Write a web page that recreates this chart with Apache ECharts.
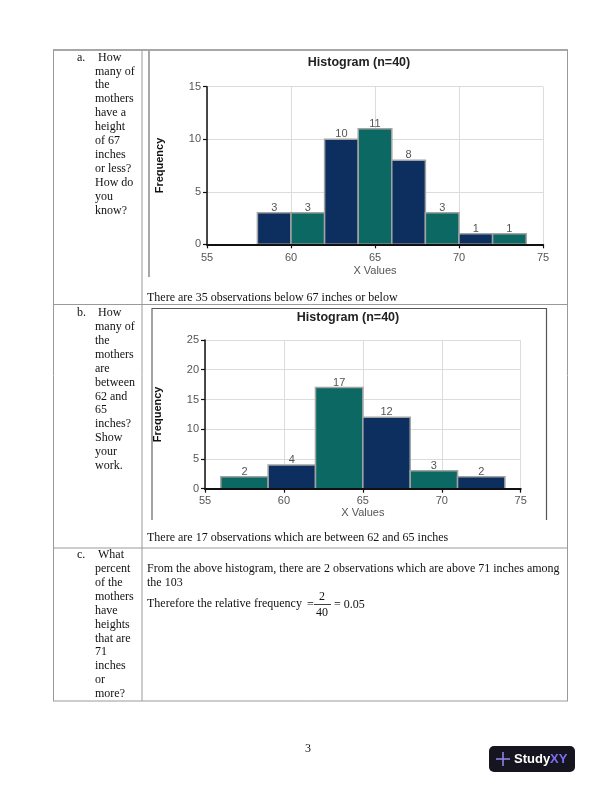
<!DOCTYPE html>
<html>
<head>
<meta charset="utf-8">
<script src="https://cdn.jsdelivr.net/npm/echarts@6/dist/echarts.min.js"></script>
<style>
html,body{margin:0;padding:0;background:#fff;}
#c{width:612px;height:792px;}
</style>
</head>
<body>
<div id="c"></div>
<script>
// ---- Data ----
const chartTitle = 'Histogram (n=40)';
const xAxisName = 'X Values';
const yAxisName = 'Frequency';
const xTicks = [55, 60, 65, 70, 75];

// Histogram a
const binStartsA = [58, 60, 62, 64, 66, 68, 70, 72];
const binEndsA   = [60, 62, 64, 66, 68, 70, 72, 74];
const countsA    = [3, 3, 10, 11, 8, 3, 1, 1];
const yTicksA    = [0, 5, 10, 15];

// Histogram b
const binStartsB = [56, 59, 62, 65, 68, 71];
const binEndsB   = [59, 62, 65, 68, 71, 74];
const countsB    = [2, 4, 17, 12, 3, 2];
const yTicksB    = [0, 5, 10, 15, 20, 25];

// Text
const rowA = ['How', 'many of', 'the', 'mothers', 'have a', 'height', 'of 67', 'inches', 'or less?', 'How do', 'you', 'know?'];
const rowB = ['How', 'many of', 'the', 'mothers', 'are', 'between', '62 and', '65', 'inches?', 'Show', 'your', 'work.'];
const rowC = ['What', 'percent', 'of the', 'mothers', 'have', 'heights', 'that are', '71', 'inches', 'or', 'more?'];
const answerA = 'There are 35 observations below 67 inches or below';
const answerB = 'There are 17 observations which are between 62 and 65 inches';
const answerC1 = 'From the above histogram, there are 2 observations which are above 71 inches among';
const answerC2 = 'the 103';
const answerC3 = 'Therefore the relative frequency';

// ---- Styles ----
const NAVY = '#0c2f5f';
const TEAL = '#0b6862';
const SERIF = '12px "Liberation Serif", "Times New Roman", serif';
const SANS = '"Liberation Sans", Arial, sans-serif';

function makeData(s, e, c) { return s.map((v, i) => [v, e[i], c[i]]); }

function renderer(firstColor, secondColor) {
  return function (params, api) {
    const s = api.value(0), e = api.value(1), v = api.value(2);
    const p0 = api.coord([s, v]);
    const p1 = api.coord([e, 0]);
    const color = params.dataIndex % 2 === 0 ? firstColor : secondColor;
    return {
      type: 'group',
      children: [
        { type: 'rect', shape: { x: p0[0], y: p0[1], width: p1[0] - p0[0], height: p1[1] - p0[1] },
          style: { fill: color, stroke: '#a3a3a3', lineWidth: 1.5 } },
        { type: 'text', style: { text: String(v), x: (p0[0] + p1[0]) / 2, y: p0[1] + 0.5, align: 'center', verticalAlign: 'bottom',
          fill: '#555', font: '11px ' + SANS } }
      ]
    };
  };
}

// base axes: labels, names, split lines (behind bars)
function xAx(gi, gap, margin) {
  return {
    type: 'value', gridIndex: gi, position: 'bottom', min: 55, max: 75, interval: 5, z: 0,
    name: xAxisName, nameLocation: 'middle', nameGap: gap,
    nameTextStyle: { color: '#555', fontSize: 11, fontFamily: SANS },
    axisLine: { show: false, onZero: false },
    axisTick: { show: false },
    axisLabel: { color: '#555', fontSize: 11, fontFamily: SANS, margin: margin,
      formatter: v => (xTicks.indexOf(v) >= 0 ? String(v) : '') },
    splitLine: { show: true, lineStyle: { color: '#dcdcdc', width: 1 } }
  };
}
function yAx(gi, ticks) {
  return {
    type: 'value', gridIndex: gi, position: 'left', min: ticks[0], max: ticks[ticks.length - 1], interval: 5, z: 0,
    name: yAxisName, nameLocation: 'middle', nameGap: 42, nameRotate: 90,
    nameTextStyle: { color: '#111', fontSize: 11, fontWeight: 'bold', fontFamily: SANS },
    axisLine: { show: false, onZero: false },
    axisTick: { show: false },
    axisLabel: { color: '#555', fontSize: 11, fontFamily: SANS, margin: 6,
      formatter: v => (ticks.indexOf(v) >= 0 ? String(v) : '') },
    splitLine: { show: true, lineStyle: { color: '#dcdcdc', width: 1 } }
  };
}
// overlay axes: axis line + ticks only (above bars)
function xLine(gi) {
  return {
    type: 'value', gridIndex: gi, position: 'bottom', offset: 0, min: 55, max: 75, interval: 5, z: 6,
    axisLine: { show: true, onZero: false, lineStyle: { color: '#111', width: 2 } },
    axisTick: { show: true, length: 4, lineStyle: { color: '#111', width: 1.2 } },
    axisLabel: { show: false }, splitLine: { show: false }
  };
}
function yLine(gi, ticks) {
  return {
    type: 'value', gridIndex: gi, position: 'left', offset: 0, min: ticks[0], max: ticks[ticks.length - 1], interval: 5, z: 6,
    axisLine: { show: true, onZero: false, lineStyle: { color: '#111', width: 1.5 } },
    axisTick: { show: true, length: 4, lineStyle: { color: '#111', width: 1.2 } },
    axisLabel: { show: false }, splitLine: { show: false }
  };
}

// ---- graphics: table, texts, frames ----
const G = [];
const LINE = '#9a9a9a';
function hline(x1, x2, y, color, w) { G.push({ type: 'line', shape: { x1, y1: y, x2, y2: y }, style: { stroke: color || LINE, lineWidth: w || 1 }, z: 10 }); }
function vline(x, y1, y2, color, w) { G.push({ type: 'line', shape: { x1: x, y1, x2: x, y2 }, style: { stroke: color || LINE, lineWidth: w || 1 }, z: 10 }); }
function txt(t, x, y, font, fill, align) { G.push({ type: 'text', x, y, style: { text: t, font: font || SERIF, fill: fill || '#111', align: align || 'left', verticalAlign: 'middle' }, z: 10 }); }

// table
hline(53, 568, 50, '#8a8a8a', 1.5);
hline(53, 568, 304.5);
hline(53, 568, 548);
hline(53, 568, 701);
vline(53.5, 50, 701);
vline(142, 50, 701);
vline(567.5, 50, 701);

// chart frames
vline(149, 51, 277, '#8a8a8a', 1.5);
hline(152, 547, 308.5, '#555', 1.2);
vline(152, 308, 520, '#666', 1.2);
vline(546.5, 308, 520, '#555', 1.2);

// chart titles
txt(chartTitle, 359, 63, 'bold 12.5px ' + SANS, '#222', 'center');
txt(chartTitle, 348, 318, 'bold 12.5px ' + SANS, '#222', 'center');

// left column
function leftCol(letter, lines, y0) {
  txt(letter, 77, y0);
  lines.forEach((l, i) => txt(l, i === 0 ? 98 : 95, y0 + i * 13.9));
}
leftCol('a.', rowA, 57.5);
leftCol('b.', rowB, 313);
leftCol('c.', rowC, 555);

// answers
txt(answerA, 147, 298);
txt(answerB, 147, 538);
txt(answerC1, 147, 569);
txt(answerC2, 147, 583);
txt(answerC3, 147, 604);
txt('=', 307, 604.5);
txt('2', 322, 597, SERIF, '#111', 'center');
hline(314, 331, 604.5, '#111', 0.8);
txt('40', 322, 613, SERIF, '#111', 'center');
txt('= 0.05', 334, 604.5);

// footer
txt('3', 305, 749);
G.push({ type: 'rect', shape: { x: 489, y: 746, width: 86, height: 26, r: 5 }, style: { fill: '#16151f' }, z: 10 });
hline(496, 510, 759, '#8d82e6', 1.6);
vline(503, 752, 766, '#8d82e6', 1.6);
G.push({ type: 'text', x: 514, y: 759.5, style: { rich: { a: { fill: '#ffffff', font: 'bold 13px ' + SANS }, b: { fill: '#7b6cf4', font: 'bold 13px ' + SANS } },
  text: '{a|Study}{b|XY}', verticalAlign: 'middle' }, z: 11 });

const chart = echarts.init(document.getElementById('c'), null, { renderer: 'canvas' });
chart.setOption({
  animation: false,
  backgroundColor: '#ffffff',
  grid: [
    { left: 207, right: 612 - 543, top: 86.7, bottom: 792 - 244.3, outerBoundsMode: 'none', containLabel: false },
    { left: 205, right: 612 - 520.7, top: 340, bottom: 792 - 488.7, outerBoundsMode: 'none', containLabel: false }
  ],
  xAxis: [xAx(0, 21, 8), xAx(1, 19, 7), xLine(0), xLine(1)],
  yAxis: [yAx(0, yTicksA), yAx(1, yTicksB), yLine(0, yTicksA), yLine(1, yTicksB)],
  series: [
    { type: 'custom', xAxisIndex: 0, yAxisIndex: 0, z: 2, renderItem: renderer(NAVY, TEAL),
      encode: { x: [0, 1], y: 2 }, data: makeData(binStartsA, binEndsA, countsA) },
    { type: 'custom', xAxisIndex: 1, yAxisIndex: 1, z: 2, renderItem: renderer(TEAL, NAVY),
      encode: { x: [0, 1], y: 2 }, data: makeData(binStartsB, binEndsB, countsB) }
  ],
  graphic: G
});
</script>
</body>
</html>
